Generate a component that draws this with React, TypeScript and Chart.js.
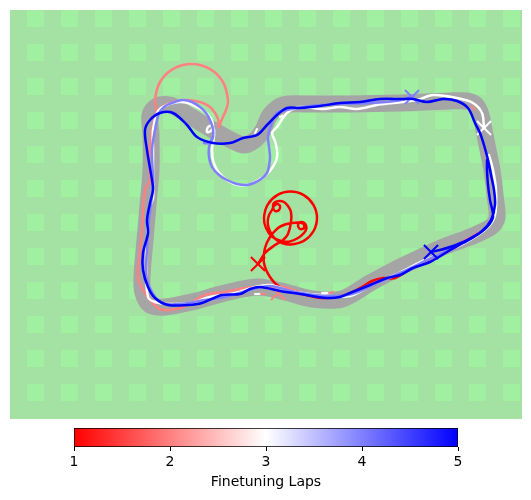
import React, { useEffect, useRef } from "react";
import { Chart, registerables } from "chart.js";

Chart.register(...registerables);

type P = [number, number];

const squareXs = [35.5, 69.5, 103.5, 137.5, 171.5, 205.5, 239.5, 273.5, 307.5, 341.5, 375.5, 409.5, 443.5, 477.5, 511.5];
const squareYs = [18.5, 52.5, 86.5, 120.5, 154.5, 188.5, 222.5, 256.5, 290.5, 324.5, 358.5, 392.5];

const track: P[] = [[400,267],[370,283],[342,299],[312,299],[285,292],[258,287],[225,293],[192,302],[165,307],[150,305],[143,293],[142,277],[145,240],[148,205],[151,170],[151,135],[150,115],[157,106],[170,105],[180,110],[213,130],[243,145],[255,140],[263,130],[270,115],[283,105],[310,104],[350,104],[400,103],[450,101],[467,101],[476,105],[481,115],[484,130],[488,150],[492,170],[495,195],[497,218],[491,227],[470,237],[443,247],[400,267]];

const lap1: P[] = [[258,264],[265,253],[275,245],[283,240],[288,234],[291,222],[291,212],[288,206],[284,202],[279,201],[274,203],[273,207],[275,211],[279,210],[280,206],[277,204],[274,206],[272,210],[269,215],[267.7,222],[269,229],[272,235],[276,239.5],[282,243],[290.5,244.5],[303.75,240.95],[313.4,231.25],[317,218],[313.4,204.75],[303.75,195.05],[290.5,191.5],[277.25,195.05],[267.55,204.75],[264,218],[266,228],[272,236.5],[281,241],[290,241.5],[298,238],[304,233],[306.5,228],[305,223.5],[301,222],[298,225],[300,229],[304,228],[303.5,224],[299,222.5],[292,223],[285,224.5],[278,228],[270,237],[265,248],[264,263],[270,277],[280,287],[302,294],[322,298],[345,295],[362,287],[372,281],[383,278],[395,278],[412,268],[430,259],[450,250],[470,239]];

const lap2: P[] = [[219,127],[222,119],[226,110],[228,100.5],[223.1,82.25],[209.75,68.9],[191.5,64],[173.25,68.9],[159.9,82.25],[155,100.5],[157,112]];
const lap2b: P[] = [[219,127],[218,119],[215,113],[210,107],[203,103],[195,101],[187,100],[178,101],[170,103],[162,107],[157,113],[152,130],[149,160],[150,180],[145,190],[142,230],[140,253],[138,277],[145,293],[158,308],[168,310],[183,307],[205,295],[225,292],[245,288],[258,287],[282,287],[302,293],[325,297],[345,295],[365,287],[380,281],[400,273],[430,259],[460,243],[480,232]];

const lap3: P[] = [[484,128],[482,113],[473,103],[457,98],[433,95],[417,100],[393,103],[377,105],[357,109],[340,107],[323,109],[300,107],[287,113],[277,127],[272,133],[275,141],[277,150],[277,157],[275,163],[270,171],[263,177],[255,182],[247,185],[238,185],[230,182],[223,177],[217,170],[213,160],[212,150],[213,142],[214,136],[214,130],[212,126],[208,127],[207,132],[211,131],[213,125],[210,117],[204,111],[197,107],[188,103],[180,102],[173,103],[167,105],[161,108],[157,113],[153,130],[153,150],[153,177],[153,198],[150,207],[147,240],[146,265],[148,297],[155,302],[170,304],[190,303],[210,297],[235,293],[255,287],[270,285],[290,291],[320,295],[350,296],[372,285],[395,275],[425,260],[450,250],[470,240],[488,227],[495,215],[496,190],[493,170],[489,155]];

const lap4: P[] = [[412,97],[395,101],[370,103],[340,104],[310,106],[287,110],[277,113],[271,125],[268,137],[269,147],[270,157],[269,166],[267,173],[261,179],[254,183],[247,185],[237,184],[227,180],[219,175],[212,167],[209,157],[209,147],[211,142],[213,137],[213,129],[210,120],[206,113],[200,107],[192,102],[183,100],[175,102],[167,105],[163,108],[159,113],[155,130],[152,150],[153,185],[149,220],[147,250],[146,275],[152,292],[162,303],[180,304],[205,300],[225,297],[250,290],[270,286],[295,292],[325,296],[352,294],[375,284],[400,273],[425,261],[450,249],[470,239],[487,227],[494,212]];
const lap4b: P[] = [[213,137],[209,143],[204,143]];

const lap5: P[] = [[431,252],[440,250],[450,247],[467,240],[482,231],[491,220],[495,205],[494,190],[491,175],[488,160],[484,145],[480,133],[475,123],[468,108],[457,101],[443,99],[427,102],[413,99],[400,99],[380,99],[360,102],[340,103],[320,106],[300,108],[287,108],[277,115],[267,125],[257,135],[243,138],[230,143],[213,143],[197,137],[187,125],[173,113],[160,113],[150,120],[145,130],[147,150],[152,180],[153,190],[150,203],[147,220],[148,233],[143,253],[143,270],[148,287],[155,298],[168,305],[188,305],[202,303],[222,295],[240,294],[250,289],[260,287],[280,291],[300,294],[327,298],[340,297],[350,293],[370,285],[387,278],[400,275],[413,268],[430,262],[447,252],[463,243],[477,235],[487,227],[493,217],[490,200],[488,185],[487,170],[487,160]];

const kerbWhite: P[][] = [[[255,294],[261,294]],[[322,293],[329,293]],[[157,113],[160,109]],[[255,133],[257,129]],[[280,117],[284,115]]];
const kerbPink: P[][] = [[[261,294],[265,294]],[[329,293],[333,292]],[[472,106],[475,110]],[[488,158],[489,162]],[[284,115],[288,113]]];

const pinkStart: P = [278, 293];
const redStart: P = [258, 264];
const paleStart: P = [412, 97];
const whiteStart: P = [484, 128];
const blueStart: P = [431, 252];

const colorbarMin = 1;
const colorbarMax = 5;
const colorbarTicks = [1, 2, 3, 4, 5];
const colorbarStops = ["#ff0000", "#ffffff", "#0000ff"];
const colorbarLabel = "Finetuning Laps";

const BG = "#a4e2a4";
const SQ = "#a1f0a1";
const TRACK = "#a5a5a5";
const RED = "#ff0000";
const PINK = "#ff8080";
const WHITE = "#ffffff";
const PALE = "#8080ff";
const BLUE = "#0000ff";
const FONT = "'DejaVu Sans'";

const xy = (pts: P[]) => pts.map(([x, y]) => ({ x, y }));

const line = (data: P[], color: string, width = 2.5, tension = 0.33) => ({
  type: "scatter" as const,
  data: xy(data),
  showLine: true,
  borderColor: color,
  borderWidth: width,
  borderCapStyle: "round" as const,
  borderJoinStyle: "round" as const,
  tension,
  pointRadius: 0,
  backgroundColor: color,
});

const cross = (p: P, color: string) => ({
  type: "scatter" as const,
  data: xy([p]),
  pointStyle: "crossRot" as const,
  pointRadius: 10,
  pointBorderColor: color,
  pointBorderWidth: 2,
  pointBackgroundColor: color,
});

const backgroundPlugin = {
  id: "mapBackground",
  beforeDraw(chart: any) {
    const { ctx, chartArea: a } = chart;
    ctx.save();
    ctx.fillStyle = BG;
    ctx.fillRect(a.left, a.top, a.width, a.height);
    ctx.restore();
  },
};

export default function App() {
  const mapRef = useRef<HTMLCanvasElement>(null);
  const barRef = useRef<HTMLCanvasElement>(null);

  useEffect(() => {
    const squares = squareYs.flatMap((y) => squareXs.map((x) => ({ x, y })));
    // Paint order: first entry is lowest.
    const painted: any[] = [
      {
        type: "scatter",
        data: squares,
        pointStyle: "rect",
        pointRadius: 17 / Math.SQRT2,
        pointBorderWidth: 0,
        pointBackgroundColor: SQ,
      },
      line(track, TRACK, 17, 0.3),
      ...kerbWhite.map((s) => line(s, WHITE, 2, 0)),
      ...kerbPink.map((s) => line(s, PINK, 2, 0)),
      cross(pinkStart, PINK),
      line(lap1, RED),
      cross(redStart, RED),
      line(lap2, PINK),
      line(lap2b, PINK),
      line(lap3, WHITE),
      cross(whiteStart, WHITE),
      line(lap4, PALE),
      line(lap4b, PALE),
      cross(paleStart, PALE),
      line(lap5, BLUE),
      cross(blueStart, BLUE),
    ];
    painted.forEach((d, i) => (d.order = painted.length - i));

    const map = new Chart(mapRef.current!, {
      type: "scatter",
      data: { datasets: painted },
      plugins: [backgroundPlugin],
      options: {
        animation: false,
        responsive: false,
        events: [],
        layout: { autoPadding: false, padding: { left: 10, right: 9, top: 10, bottom: 81 } },
        plugins: { legend: { display: false }, tooltip: { enabled: false } },
        scales: {
          x: { type: "linear", min: 10, max: 522, display: false },
          y: { type: "linear", min: 10, max: 419, reverse: true, display: false },
        },
      },
    });

    const bar = new Chart(barRef.current!, {
      type: "bar",
      data: {
        labels: [colorbarLabel],
        datasets: [
          {
            data: [[colorbarMin, colorbarMax]] as any,
            barPercentage: 1,
            categoryPercentage: 1,
            borderWidth: 1,
            borderColor: "#000000",
            borderSkipped: false,
            backgroundColor: (c: any) => {
              const a = c.chart.chartArea;
              if (!a) return colorbarStops[1];
              const g = c.chart.ctx.createLinearGradient(a.left, 0, a.right, 0);
              colorbarStops.forEach((s, i) => g.addColorStop(i / (colorbarStops.length - 1), s));
              return g;
            },
          },
        ],
      },
      options: {
        animation: false,
        responsive: false,
        events: [],
        indexAxis: "y",
        layout: { autoPadding: false, padding: { left: 74, right: 73, top: 8, bottom: 9 } },
        plugins: { legend: { display: false }, tooltip: { enabled: false } },
        scales: {
          y: { display: false },
          x: {
            type: "linear",
            min: colorbarMin,
            max: colorbarMax,
            afterBuildTicks: (s: any) => {
              s.ticks = colorbarTicks.map((value) => ({ value }));
            },
            afterFit: (s: any) => {
              s.height = 44;
            },
            grid: { drawOnChartArea: false, color: "#000000", tickLength: 4, tickWidth: 1 },
            border: { display: false },
            ticks: {
              color: "#000000",
              padding: 3,
              maxRotation: 0,
              font: { family: FONT, size: 14 },
            },
            title: {
              display: true,
              text: colorbarLabel,
              color: "#000000",
              font: { family: FONT, size: 14 },
              padding: { top: 4, bottom: 0 },
            },
          },
        },
      },
    });

    return () => {
      map.destroy();
      bar.destroy();
    };
  }, []);

  return (
    <div style={{ position: "absolute", left: 0, top: 0, width: 531, height: 500, background: "#fff" }}>
      <canvas ref={mapRef} width={531} height={500} style={{ position: "absolute", left: 0, top: 0 }} />
      <canvas ref={barRef} width={531} height={80} style={{ position: "absolute", left: 0, top: 420 }} />
    </div>
  );
}
